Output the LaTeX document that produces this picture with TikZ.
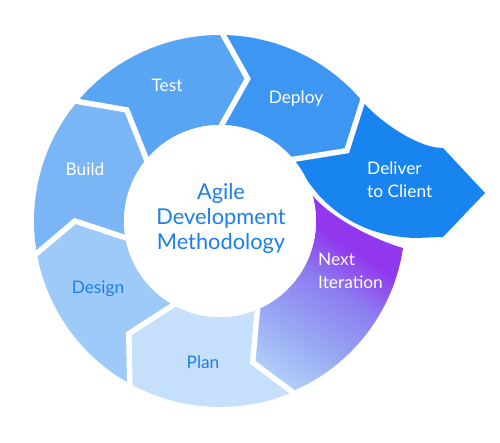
\documentclass[tikz,border=0pt]{standalone}
\usepackage{fontspec}
\setmainfont{Lato}
\usetikzlibrary{calc}
\definecolor{cTest}{HTML}{57A5F3}
\definecolor{cBuild}{HTML}{7AB6F6}
\definecolor{cDesign}{HTML}{9DCAF9}
\definecolor{cPlan}{HTML}{C6E0FB}
\definecolor{cDeploy}{HTML}{3D96F1}
\definecolor{cDeliver}{HTML}{1784F0}
\definecolor{cPurple}{HTML}{9138EE}
\definecolor{cLight}{HTML}{B7D9FB}
\definecolor{cMidA}{HTML}{98A8F3}
\definecolor{cMidB}{HTML}{8C7CF0}
\definecolor{cText}{HTML}{1C7FE8}
\pgfdeclareverticalshading{nextshade}{100bp}{color(0bp)=(cLight); color(18bp)=(cLight); color(36bp)=(cMidA); color(52bp)=(cMidB); color(64bp)=(cPurple); color(100bp)=(cPurple)}
\tikzset{
  gapline/.style={draw=white, line width=5.5pt, line join=miter, line cap=rect},
  lbl/.style={font=\fontsize{17.3}{23}\selectfont, text=white, inner sep=0pt},
  lbldark/.style={lbl, text=cText},
}
\begin{document}
\begin{tikzpicture}[x=1pt,y=1pt]
\useasboundingbox (0,0) rectangle (500,443);
\begin{scope}[shift={(220,222)}]
  % Plan
  \fill[cPlan] (-67:186) arc[start angle=-67, end angle=-119, radius=186] -- (-129:145) -- (-119:96) arc[start angle=-119, end angle=-67, radius=96] -- (-77:145) -- cycle;
  % Design
  \fill[cDesign] (241:186) arc[start angle=241, end angle=190, radius=186] -- (180:145) -- (190:96) arc[start angle=190, end angle=241, radius=96] -- (231:145) -- cycle;
  % Build
  \fill[cBuild] (190:186) arc[start angle=190, end angle=140, radius=186] -- (130:145) -- (140:96) arc[start angle=140, end angle=190, radius=96] -- (180:145) -- cycle;
  % Test
  \fill[cTest] (140:186) arc[start angle=140, end angle=89, radius=186] -- (79:145) -- (89:96) arc[start angle=89, end angle=140, radius=96] -- (130:145) -- cycle;
  % Deploy
  \fill[cDeploy] (89:186) arc[start angle=89, end angle=40, radius=186] -- (29:145) -- (40:96) arc[start angle=40, end angle=89, radius=96] -- (79:145) -- cycle;
  % Next Iteration
  \shade[shading=nextshade, shading angle=-33] (92,26) .. controls (110,4) and (152,-18) .. (183,-27) arc[start angle=-8.4, end angle=-67, radius=185] -- (-77:145) -- (-67:96) arc[start angle=-67, end angle=15.8, radius=96] -- cycle;
\end{scope}
% Deliver to Client
\fill[cDeliver] ($(220,222)+(40:186)$) .. controls (375,326) and (415,295) .. (443,295) -- (485,250) -- (443,206) -- (415,205) .. controls (355,207) and (318,240) .. (298,278) -- ($(220,222)+(40:96)$) -- ($(220,222)+(29:145)$) -- cycle;
\begin{scope}[shift={(220,222)}]
  \draw[gapline] (-67:186) -- (-77:145) -- (-67:96);
  \draw[gapline] (241:186) -- (231:145) -- (241:96);
  \draw[gapline] (190:186) -- (180:145) -- (190:96);
  \draw[gapline] (140:186) -- (130:145) -- (140:96);
  \draw[gapline] (89:186) -- (79:145) -- (89:96);
  \draw[gapline] (40:186) -- (29:145) -- (40:96);
  \fill[white] (0,0) circle[radius=96];
\end{scope}
\node[align=center, font=\fontsize{21.8}{25}\selectfont, text=cText, inner sep=0pt] (title) at (221,225) {Agile\\Development\\Methodology};
\node[lbl] (test) at (167,358) {Test};
\node[lbl] (build) at (85,274) {Build};
\node[lbldark] (design) at (98,154) {Design};
\node[lbldark] (plan) at (203,81) {Plan};
\node[lbl] (deploy) at (296,344) {Deploy};
\node[lbl, align=left, anchor=west] (deliver) at (367,263) {Deliver\\to Client};
\node[lbl, align=left, anchor=west] (next) at (318,172) {Next\\Iteration};
\end{tikzpicture}
\end{document}
